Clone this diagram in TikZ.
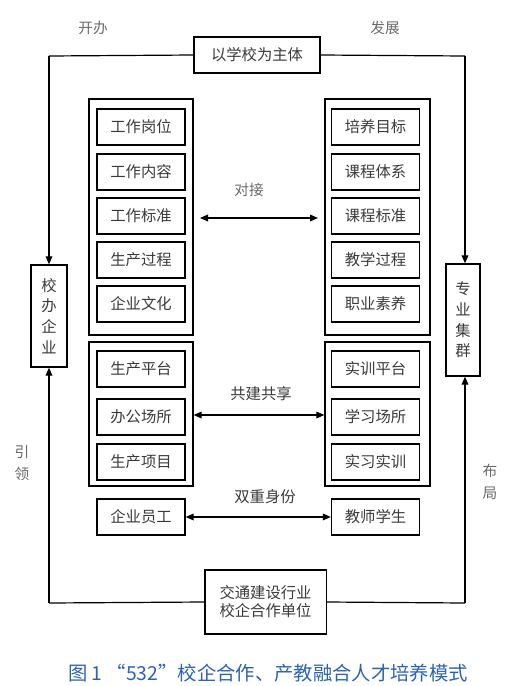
\documentclass[tikz,border=0pt]{standalone}
\usepackage{fontspec}
\setmainfont{Noto Sans CJK SC}
\usetikzlibrary{arrows.meta}
\definecolor{txt}{HTML}{3A3A3A}
\definecolor{lbl}{HTML}{6A6A6A}
\definecolor{cap}{HTML}{2A62B4}
\begin{document}
\begin{tikzpicture}[x=0.75pt,y=-0.75pt,
  box/.style={draw=black,line width=1pt,minimum width=66pt,minimum height=27pt,inner sep=0pt,text=txt,font=\fontsize{11.5}{13.5}\selectfont},
  grp/.style={draw=black,line width=1pt},
  ln/.style={line width=0.9pt},
  arr/.style={line width=0.9pt,-{Triangle[length=6pt,width=5pt]}},
  darr/.style={line width=0.9pt,{Triangle[length=6pt,width=5pt]}-{Triangle[length=6pt,width=5pt]}},
  lab/.style={text=lbl,font=\fontsize{11}{13}\selectfont},
  vbox/.style={draw=black,line width=1pt,inner sep=0pt,text=txt,font=\fontsize{11.5}{13.5}\selectfont,align=center}]
\useasboundingbox (0,0) rectangle (522,686);

% top and bottom boxes
\node[box,minimum width=94.5pt,minimum height=27pt] (top) at (257,55) {以学校为主体};
\node[box,minimum width=91pt,minimum height=48pt,align=center] (bot) at (265.5,602) {交通建设行业\\校企合作单位};

% side boxes
\node[vbox,minimum width=27pt,minimum height=76.5pt] (L) at (49,316) {校\\[2pt]办\\[2pt]企\\[2pt]业};
\node[vbox,minimum width=25.5pt,minimum height=84pt] (R) at (463,320) {专\\[2pt]业\\[2pt]集\\[2pt]群};

\coordinate (tl) at (49,56);
\coordinate (tr) at (465,56);
\coordinate (bl) at (49,603);
\coordinate (br) at (465,603);

\draw[ln] (top.west) -- (tl);
\draw[arr] (tl) -- (L.north -| tl);
\draw[ln] (top.east) -- (tr);
\draw[arr] (tr) -- (R.north -| tr);
\draw[ln] (bot.west) -- (bl);
\draw[arr] (bl) -- (L.south -| bl);
\draw[ln] (bot.east) -- (br);
\draw[arr] (br) -- (R.south -| br);

\node[lab] (kb) at (93,28) {开办};
\node[lab] (fz) at (385,28) {发展};
\node[lab,align=center] (yl) at (22,463) {引\\[4pt]领};
\node[lab,align=center] (bj) at (490,482) {布\\[4pt]局};

% groups
\node[grp,minimum width=78pt,minimum height=177pt] (g1l) at (141,217) {};
\node[grp,minimum width=78.75pt,minimum height=177pt] (g1r) at (377.5,217) {};
\node[grp,minimum width=78pt,minimum height=108pt] (g2l) at (141,414) {};
\node[grp,minimum width=78.75pt,minimum height=108pt] (g2r) at (377.5,414) {};

\node[box] (a1) at (141,127) {工作岗位};
\node[box] (a2) at (141,172) {工作内容};
\node[box] (a3) at (141,216) {工作标准};
\node[box] (a4) at (141,260) {生产过程};
\node[box] (a5) at (141,304) {企业文化};

\node[box] (b1) at (375.5,127) {培养目标};
\node[box] (b2) at (375.5,172) {课程体系};
\node[box] (b3) at (375.5,216) {课程标准};
\node[box] (b4) at (375.5,260) {教学过程};
\node[box] (b5) at (375.5,304) {职业素养};

\node[box] (c1) at (141,369) {生产平台};
\node[box] (c2) at (141,417) {办公场所};
\node[box] (c3) at (141,462) {生产项目};

\node[box] (d1) at (375.5,369) {实训平台};
\node[box] (d2) at (375.5,417) {学习场所};
\node[box] (d3) at (375.5,462) {实习实训};

\node[box] (e1) at (141,517) {企业员工};
\node[box] (e2) at (375.5,517) {教师学生};

\coordinate (p1) at (200,218);
\coordinate (p2) at (318,218);
\draw[darr] (p1) -- (p2);
\node[lab] (dj) at (249,190) {对接};

\draw[darr] (g2l.east |- 0,415) -- (g2r.west |- 0,415);
\node[box,draw=none] (gj) at (261,394) {共建共享};

\draw[darr] (e1) -- (e2);
\node[box,draw=none] (sc) at (265,497) {双重身份};

\node[text=cap,font=\fontsize{14.5}{16}\selectfont] (caption) at (268,673) {图 1 “532”校企合作、产教融合人才培养模式};
\end{tikzpicture}
\end{document}
